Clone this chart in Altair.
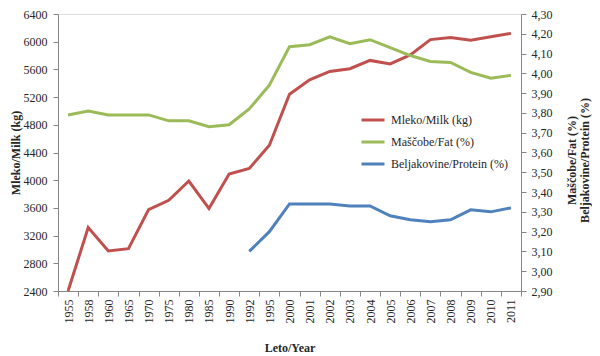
import altair as alt
import pandas as pd

years = ["1955", "1958", "1960", "1965", "1970", "1975", "1980", "1985", "1990", "1992",
         "1995", "2000", "2001", "2002", "2003", "2004", "2005", "2006", "2007", "2008",
         "2009", "2010", "2011"]
milk = [2400, 3316, 2978, 3012, 3575, 3710, 3988, 3590, 4090, 4169, 4505, 5242, 5450,
        5570, 5610, 5730, 5680, 5810, 6030, 6060, 6020, 6070, 6120]
fat = [3.79, 3.81, 3.79, 3.79, 3.79, 3.76, 3.76, 3.73, 3.74, 3.82, 3.94, 4.135, 4.145,
       4.185, 4.15, 4.17, 4.13, 4.09, 4.06, 4.055, 4.005, 3.975, 3.99]
protein = [None, None, None, None, None, None, None, None, None, 3.10, 3.20, 3.34, 3.34,
           3.34, 3.33, 3.33, 3.28, 3.26, 3.25, 3.26, 3.31, 3.30, 3.32]

series = ["Mleko/Milk (kg)", "Maščobe/Fat (%)", "Beljakovine/Protein (%)"]
colors = ["#C0504D", "#9BBB59", "#4F81BD"]
left_ticks = [2400, 2800, 3200, 3600, 4000, 4400, 4800, 5200, 5600, 6000, 6400]
right_ticks = [2.9, 3.0, 3.1, 3.2, 3.3, 3.4, 3.5, 3.6, 3.7, 3.8, 3.9, 4.0, 4.1, 4.2, 4.3]

df_milk = pd.DataFrame({"year": years, "value": milk, "series": series[0]})
df_pct = pd.concat([
    pd.DataFrame({"year": years, "value": fat, "series": series[1]}),
    pd.DataFrame({"year": years, "value": protein, "series": series[2]}),
]).dropna()

FONT = "Liberation Serif"
AX = "#868686"
TXT = "#262626"

x = alt.X(
    "year:N", sort=years,
    scale=alt.Scale(type="band", domain=years, paddingInner=0, paddingOuter=0),
    axis=alt.Axis(
        title="Leto/Year", labelAngle=270, tickBand="extent", labelPadding=3,
        tickSize=5, domainColor=AX, tickColor=AX, labelFont=FONT, labelFontSize=12,
        labelColor=TXT, titleFont=FONT, titleFontSize=12, titleFontWeight="bold",
        titleColor=TXT, titleY=56, titleBaseline="middle",
    ),
)

color = alt.Color(
    "series:N",
    scale=alt.Scale(domain=series, range=colors),
    legend=alt.Legend(
        title=None, orient="none", legendX=302, legendY=93, symbolType="stroke",
        symbolSize=529, symbolStrokeWidth=3, rowPadding=3, labelOffset=5, padding=0,
        labelFont=FONT, labelFontSize=12, labelColor=TXT,
    ),
)

milk_line = alt.Chart(df_milk).mark_line(strokeWidth=3).encode(
    x=x,
    y=alt.Y(
        "value:Q",
        scale=alt.Scale(domain=[2400, 6400], nice=False, zero=False),
        axis=alt.Axis(
            orient="left", values=left_ticks, grid=False, format="d",
            title="Mleko/Milk (kg)",
            tickSize=5, labelPadding=6, domainColor=AX, tickColor=AX, labelFont=FONT,
            labelFontSize=12, labelColor=TXT, titleFont=FONT, titleFontSize=12,
            titleFontWeight="bold", titleColor=TXT, titleX=-43, titleAngle=270,
            titleBaseline="middle",
        ),
    ),
    color=color,
)

pct_lines = alt.Chart(df_pct).mark_line(strokeWidth=3).encode(
    x=x,
    y=alt.Y(
        "value:Q",
        scale=alt.Scale(domain=[2.9, 4.3], nice=False, zero=False),
        axis=alt.Axis(
            orient="right", values=right_ticks, grid=False,
            labelExpr="replace(format(datum.value, '.2f'), '.', ',')",
            title=["Maščobe/Fat (%)", "Beljakovine/Protein (%)"],
            tickSize=5, labelPadding=5, domainColor=AX, tickColor=AX, labelFont=FONT,
            labelFontSize=12, labelColor=TXT, titleFont=FONT, titleFontSize=12,
            titleFontWeight="bold", titleColor=TXT, titleX=50, titleY=146,
            titleAngle=270, titleBaseline="middle", titleLineHeight=13,
        ),
    ),
    color=color,
)

chart = alt.layer(milk_line, pct_lines).resolve_scale(y="independent").properties(
    width=463, height=277,
    autosize=alt.AutoSizeParams(type="none"),
    padding={"left": 50, "top": 6, "right": 71, "bottom": 65},
).configure_view(stroke=None).configure(background="white", font=FONT)

chart.save("out.html", embed_options={"renderer": "svg", "actions": False})
